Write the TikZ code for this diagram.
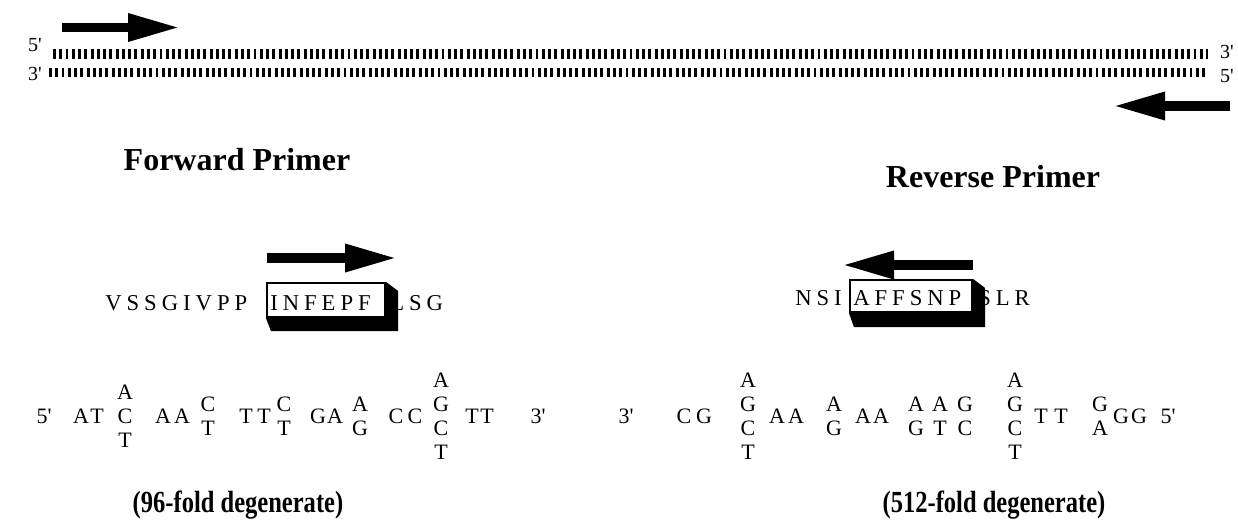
\documentclass[tikz,border=0pt]{standalone}
\usepackage{fontspec}
\setmainfont{Liberation Serif}
\usetikzlibrary{arrows.meta}
\newcommand{\pr}{\textquotesingle}
\begin{document}
\begin{tikzpicture}[x=0.75pt,y=-0.75pt,
  strand/.style={line width=7.2pt, dash pattern=on 2.2pt off 2.5pt},
  endlbl/.style={font=\fontsize{15}{15}\selectfont, inner sep=0pt},
  bigarrow/.style={line width=7pt, -{Triangle[length=39pt,width=19.5pt]}},
  aa/.style={font=\fontsize{17}{17}\selectfont\addfontfeature{LetterSpace=22}, anchor=base west, inner sep=0pt},
  nt/.style={font=\fontsize{16.5}{16.5}\selectfont, anchor=base, inner sep=0pt},
  title/.style={font=\fontsize{24}{24}\selectfont\bfseries, inner sep=0pt},
  degen/.style={font=\fontsize{23}{23}\selectfont\bfseries\addfontfeature{FakeStretch=0.8}, inner sep=0pt},
  pbox/.style={draw, line width=1.6pt, fill=white, inner sep=0pt},
  shade/.style={fill=black},
]
\useasboundingbox (0,0) rectangle (1238,525);

% ---- double-stranded template ----
\coordinate (s1a) at (53,54);  \coordinate (s1b) at (1208,54);
\coordinate (s2a) at (49,72.5);  \coordinate (s2b) at (1208,72.5);
\draw[strand] (s1a) -- (s1b);
\draw[strand] (s2a) -- (s2b);
\node[endlbl] (l5) at (35,45) {5\pr};
\node[endlbl] (l3) at (35,74) {3\pr};
\node[endlbl] (r3) at (1227,52) {3\pr};
\node[endlbl] (r5) at (1227,76) {5\pr};

% primer direction arrows on the template
\coordinate (ta0) at (62,27.5);   \coordinate (ta1) at (180,27.5);
\coordinate (tb0) at (1230,106);  \coordinate (tb1) at (1113,106);
\draw[bigarrow] (ta0) -- (ta1);
\draw[bigarrow] (tb0) -- (tb1);

% ---- titles ----
\node[title] (fwdtitle) at (237,160) {Forward Primer};
\node[title] (revtitle) at (993,177) {Reverse Primer};

% ---- forward peptide ----
\coordinate (fa0) at (267,258); \coordinate (fa1) at (397,258);
\draw[bigarrow] (fa0) -- (fa1);
\node[aa] (fpre)  at (105,310) {VSSGIVPP};
\node[aa] (fpost) at (390,310) {LSG};
\node[pbox, minimum width=88.5pt, minimum height=25.5pt] (fbox) at (326,300) {};
\fill[shade] (fbox.south west) -- ([shift={(5,13)}]fbox.south west)
  -- ([shift={(12,13)}]fbox.south east) -- ([shift={(12,9)}]fbox.north east)
  -- (fbox.north east) -- (fbox.south east) -- cycle;
\node[aa] (fcore) at (270,310) {INFEPF};

% ---- reverse peptide ----
\coordinate (ra0) at (973,265); \coordinate (ra1) at (842,265);
\draw[bigarrow] (ra0) -- (ra1);
\node[aa] (rpre)  at (795,305) {NSI};
\node[aa] (rpost) at (978,305) {SLR};
\node[pbox, minimum width=91.5pt, minimum height=24pt] (rbox) at (911,296) {};
\fill[shade] (rbox.south west) -- ([shift={(5,14)}]rbox.south west)
  -- ([shift={(12,14)}]rbox.south east) -- ([shift={(12,9)}]rbox.north east)
  -- (rbox.north east) -- (rbox.south east) -- cycle;
\node[aa] (rcore) at (853,305) {AFFSNP};

% ---- forward degenerate oligo ----
\foreach \nm/\x/\dy/\b in {
  f5p/44/0/5\pr, f1/81/0/A, f2/97/0/T,
  f3/125/-24/A, f4/125/0/C, f5/125/24/T,
  f6/163/0/A, f7/182/0/A, f8/208/-12/C, f9/208/12/T,
  f10/246/0/T, f11/264/0/T, f12/284/-12/C, f13/284/12/T,
  f14/318/0/G, f15/335/0/A, f16/360/-12/A, f17/360/12/G,
  f18/396/0/C, f19/415/0/C,
  f20/441/-36/A, f21/441/-12/G, f22/441/12/C, f23/441/36/T,
  f24/472/0/T, f25/487/0/T, f3p/538/0/3\pr}
  \node[nt] (\nm) at (\x,{423+\dy}) {\b};

% ---- reverse degenerate oligo ----
\foreach \nm/\x/\dy/\b in {
  r3p/626/0/3\pr, r1/684/0/C, r2/704/0/G,
  r3/748/-36/A, r4/748/-12/G, r5/748/12/C, r6/748/36/T,
  r7/777/0/A, r8/796/0/A, r9/834/-12/A, r10/834/12/G,
  r11/863/0/A, r12/881/0/A,
  r13/916/-12/A, r14/940/-12/A, r15/965/-12/G,
  r16/916/12/G, r17/940/12/T, r18/965/12/C,
  r19/1015/-36/A, r20/1015/-12/G, r21/1015/12/C, r22/1015/36/T,
  r23/1041/0/T, r24/1061/0/T, r25/1100/-12/G, r26/1100/12/A,
  r27/1121/0/G, r28/1139/0/G, r5p/1168/0/5\pr}
  \node[nt] (\nm) at (\x,{423+\dy}) {\b};

% ---- degeneracy notes ----
\node[degen] (fdeg) at (238,505) {(96-fold degenerate)};
\node[degen] (rdeg) at (994,505) {(512-fold degenerate)};
\end{tikzpicture}
\end{document}
